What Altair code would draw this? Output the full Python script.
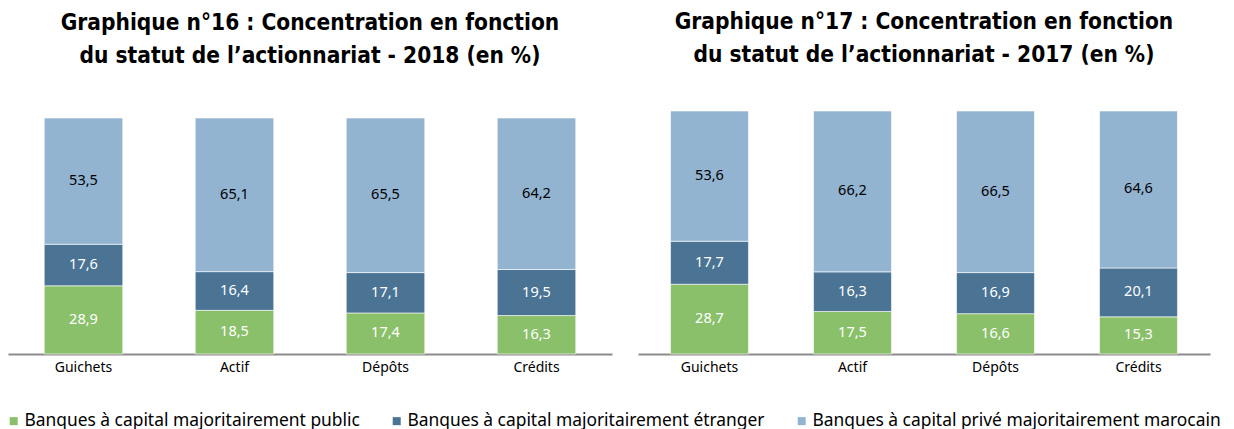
import altair as alt
import pandas as pd

categories = ["Guichets", "Actif", "Dépôts", "Crédits"]
series = [
    "Banques à capital majoritairement public",
    "Banques à capital majoritairement étranger",
    "Banques à capital privé majoritairement marocain",
]
colors = ["#8AC06A", "#4A7394", "#92B4D1"]

values_2018 = {
    series[0]: [28.9, 18.5, 17.4, 16.3],
    series[1]: [17.6, 16.4, 17.1, 19.5],
    series[2]: [53.5, 65.1, 65.5, 64.2],
}
values_2017 = {
    series[0]: [28.7, 17.5, 16.6, 15.3],
    series[1]: [17.7, 16.3, 16.9, 20.1],
    series[2]: [53.6, 66.2, 66.5, 64.6],
}

title_2018 = ["Graphique n°16 : Concentration en fonction", "du statut de l\u2019actionnariat - 2018 (en %)"]
title_2017 = ["Graphique n°17 : Concentration en fonction", "du statut de l\u2019actionnariat - 2017 (en %)"]


def make_df(vals):
    rows = []
    for si, s in enumerate(series):
        for ci, c in enumerate(categories):
            rows.append({"cat": c, "s": s, "o": si, "val": vals[s][ci]})
    return pd.DataFrame(rows)


TITLE_FONT = "DejaVu Sans Condensed, Roboto, sans-serif"
BODY_FONT = "Noto Sans, Open Sans, sans-serif"

color_enc = alt.Color(
    "s:N",
    scale=alt.Scale(domain=series, range=colors),
    sort=series,
    legend=alt.Legend(
        title=None,
        orient="none",
        direction="horizontal",
        legendX=-3,
        legendY=301,
        symbolType="square",
        symbolSize=64,
        symbolStrokeWidth=0,
        labelFontSize=17.4,
        labelFont=BODY_FONT,
        labelColor="#000000",
        labelOffset=2,
        columnPadding=28,
        labelLimit=600,
        padding=0,
    ),
)


def panel(vals, title, width, ymax, pad_inner):
    df = make_df(vals)
    base = alt.Chart(df).transform_stack(
        stack="val", as_=["y0", "y1"], groupby=["cat"], sort=[alt.SortField("o")]
    ).transform_calculate(
        mid="(datum.y0 + datum.y1) / 2",
        lbl="replace(format(datum.val, '.1f'), '.', ',')",
    )
    x_enc = alt.X(
        "cat:N",
        sort=categories,
        title=None,
        scale=alt.Scale(paddingInner=pad_inner, paddingOuter=pad_inner / 2),
        axis=alt.Axis(
            labelAngle=0,
            ticks=False,
            domainColor="#8C8C8C",
            domainWidth=2,
            labelFont=BODY_FONT,
            labelFontSize=14,
            labelColor="#000000",
            labelPadding=6,
        ),
    )
    y_scale = alt.Scale(domain=[0, ymax], nice=False, zero=True)
    bars = base.mark_bar(stroke="white", strokeWidth=0.6).encode(
        x=x_enc,
        y=alt.Y("y0:Q", scale=y_scale, axis=None),
        y2="y1:Q",
        color=color_enc,
        order=alt.Order("o:Q"),
    )
    text = base.mark_text(font=BODY_FONT, fontSize=14.5, baseline="middle").encode(
        x=alt.X("cat:N", sort=categories),
        y=alt.Y("mid:Q", scale=y_scale),
        text="lbl:N",
        color=alt.condition(
            alt.datum.o == 2, alt.value("#000000"), alt.value("#FFFFFF")
        ),
    )
    return alt.layer(bars, text).properties(
        width=width,
        height=243,
        title=alt.TitleParams(
            text=title,
            font=TITLE_FONT,
            fontSize=22.5,
            fontWeight="bold",
            lineHeight=33,
            anchor="middle",
            offset=44,
            color="#000000",
        ),
    )


left = panel(values_2018, title_2018, 604, 100 * 243 / 236, 0.48)
right = panel(values_2017, title_2017, 572, 100, 0.455)

chart = alt.hconcat(left, right, spacing=26).properties(
    padding={"left": -3, "top": 3, "right": 0, "bottom": 0}
).configure_view(stroke=None)

chart.save("out.html", embed_options={"renderer": "svg", "actions": False})
